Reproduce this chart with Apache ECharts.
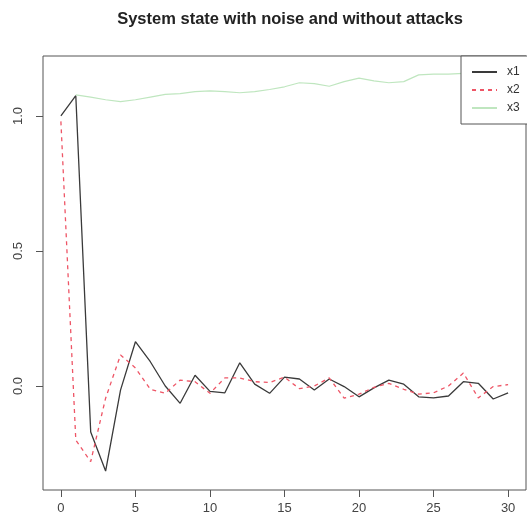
<!DOCTYPE html>
<html>
<head>
<meta charset="utf-8">
<script src="https://cdn.jsdelivr.net/npm/echarts@6/dist/echarts.min.js"></script>
<style>
html,body{margin:0;padding:0;background:#fff;}
#main{width:527px;height:524px;}
</style>
</head>
<body>
<div id="main"></div>
<script>
// time steps 0..30
var steps = [0,1,2,3,4,5,6,7,8,9,10,11,12,13,14,15,16,17,18,19,20,21,22,23,24,25,26,27,28,29,30];
var x1 = [1.0,1.075,-0.17,-0.315,-0.015,0.164,0.09,0.0,-0.064,0.04,-0.02,-0.025,0.086,0.007,-0.027,0.033,0.026,-0.015,0.026,-0.002,-0.04,-0.007,0.022,0.007,-0.04,-0.044,-0.037,0.016,0.01,-0.048,-0.025];
var x2 = [0.98,-0.2,-0.28,-0.045,0.115,0.067,-0.012,-0.027,0.022,0.016,-0.027,0.03,0.03,0.016,0.013,0.033,-0.01,0.0,0.03,-0.045,-0.03,-0.005,0.01,-0.012,-0.03,-0.025,0.0,0.048,-0.044,-0.002,0.005];
var x3 = [null,1.078,1.07,1.06,1.053,1.06,1.07,1.08,1.083,1.09,1.093,1.09,1.086,1.09,1.098,1.108,1.123,1.12,1.11,1.127,1.14,1.13,1.123,1.127,1.152,1.155,1.155,1.158,1.16,1.16,1.162];
var xTicks = [0,5,10,15,20,25,30];
var yTicks = [0,0.5,1.0];

function pairs(ys){
    var out = [];
    for(var i=0;i<steps.length;i++){
        if(ys[i] != null) out.push([steps[i], ys[i]]);
    }
    return out;
}

var myChart = echarts.init(document.getElementById("main"));
var lab = {color:'#444', fontSize:13, fontFamily:'Liberation Sans, Arial'};
var option = {
    backgroundColor:'#fff',
    animation:false,
    title:{
        text:'System state with noise and without attacks',
        left:285, top:6, textAlign:'center',
        textStyle:{fontSize:16.5, fontWeight:'bold', color:'#222', fontFamily:'Liberation Sans, Arial'}
    },
    grid:{left:43, top:56, right:1, bottom:34, show:true, borderColor:'#555', borderWidth:1, backgroundColor:'transparent'},
    xAxis:{
        type:'value', min:-1.2, max:31.2,
        splitLine:{show:false},
        axisLine:{show:false, onZero:false},
        axisTick:{show:true, customValues:xTicks, length:7, lineStyle:{color:'#555'}},
        axisLabel:{customValues:xTicks, margin:12, color:lab.color, fontSize:lab.fontSize, fontFamily:lab.fontFamily}
    },
    yAxis:{
        type:'value', min:-0.385, max:1.222,
        splitLine:{show:false},
        axisLine:{show:false, onZero:false},
        axisTick:{show:true, customValues:yTicks, length:7, lineStyle:{color:'#555'}},
        axisLabel:{customValues:yTicks, rotate:90, margin:18, color:lab.color, fontSize:lab.fontSize, fontFamily:lab.fontFamily,
            formatter:function(v){return v.toFixed(1);}}
    },
    legend:{
        orient:'vertical', left:461, top:56,
        padding:[10,40,10,10], itemGap:6, itemWidth:25, itemHeight:12,
        backgroundColor:'#fff', borderColor:'#555', borderWidth:1,
        itemStyle:{opacity:0},
        textStyle:{fontSize:12, color:'#333', padding:[0,0,0,5], fontFamily:'Liberation Sans, Arial'},
        data:['x1','x2','x3']
    },
    series:[
        {name:'x1', type:'line', data:pairs(x1), symbol:'none',
         lineStyle:{color:'#3a3a3a', width:1.3}, itemStyle:{color:'#3a3a3a'}},
        {name:'x2', type:'line', data:pairs(x2), symbol:'none',
         lineStyle:{color:'#ee5566', width:1.3, type:[4,4]}, itemStyle:{color:'#ee5566'}},
        {name:'x3', type:'line', data:pairs(x3), symbol:'none',
         lineStyle:{color:'#bfe6bf', width:1.2}, itemStyle:{color:'#bfe6bf'}}
    ]
};
myChart.clear();
myChart.setOption(option);
</script>
</body>
</html>
